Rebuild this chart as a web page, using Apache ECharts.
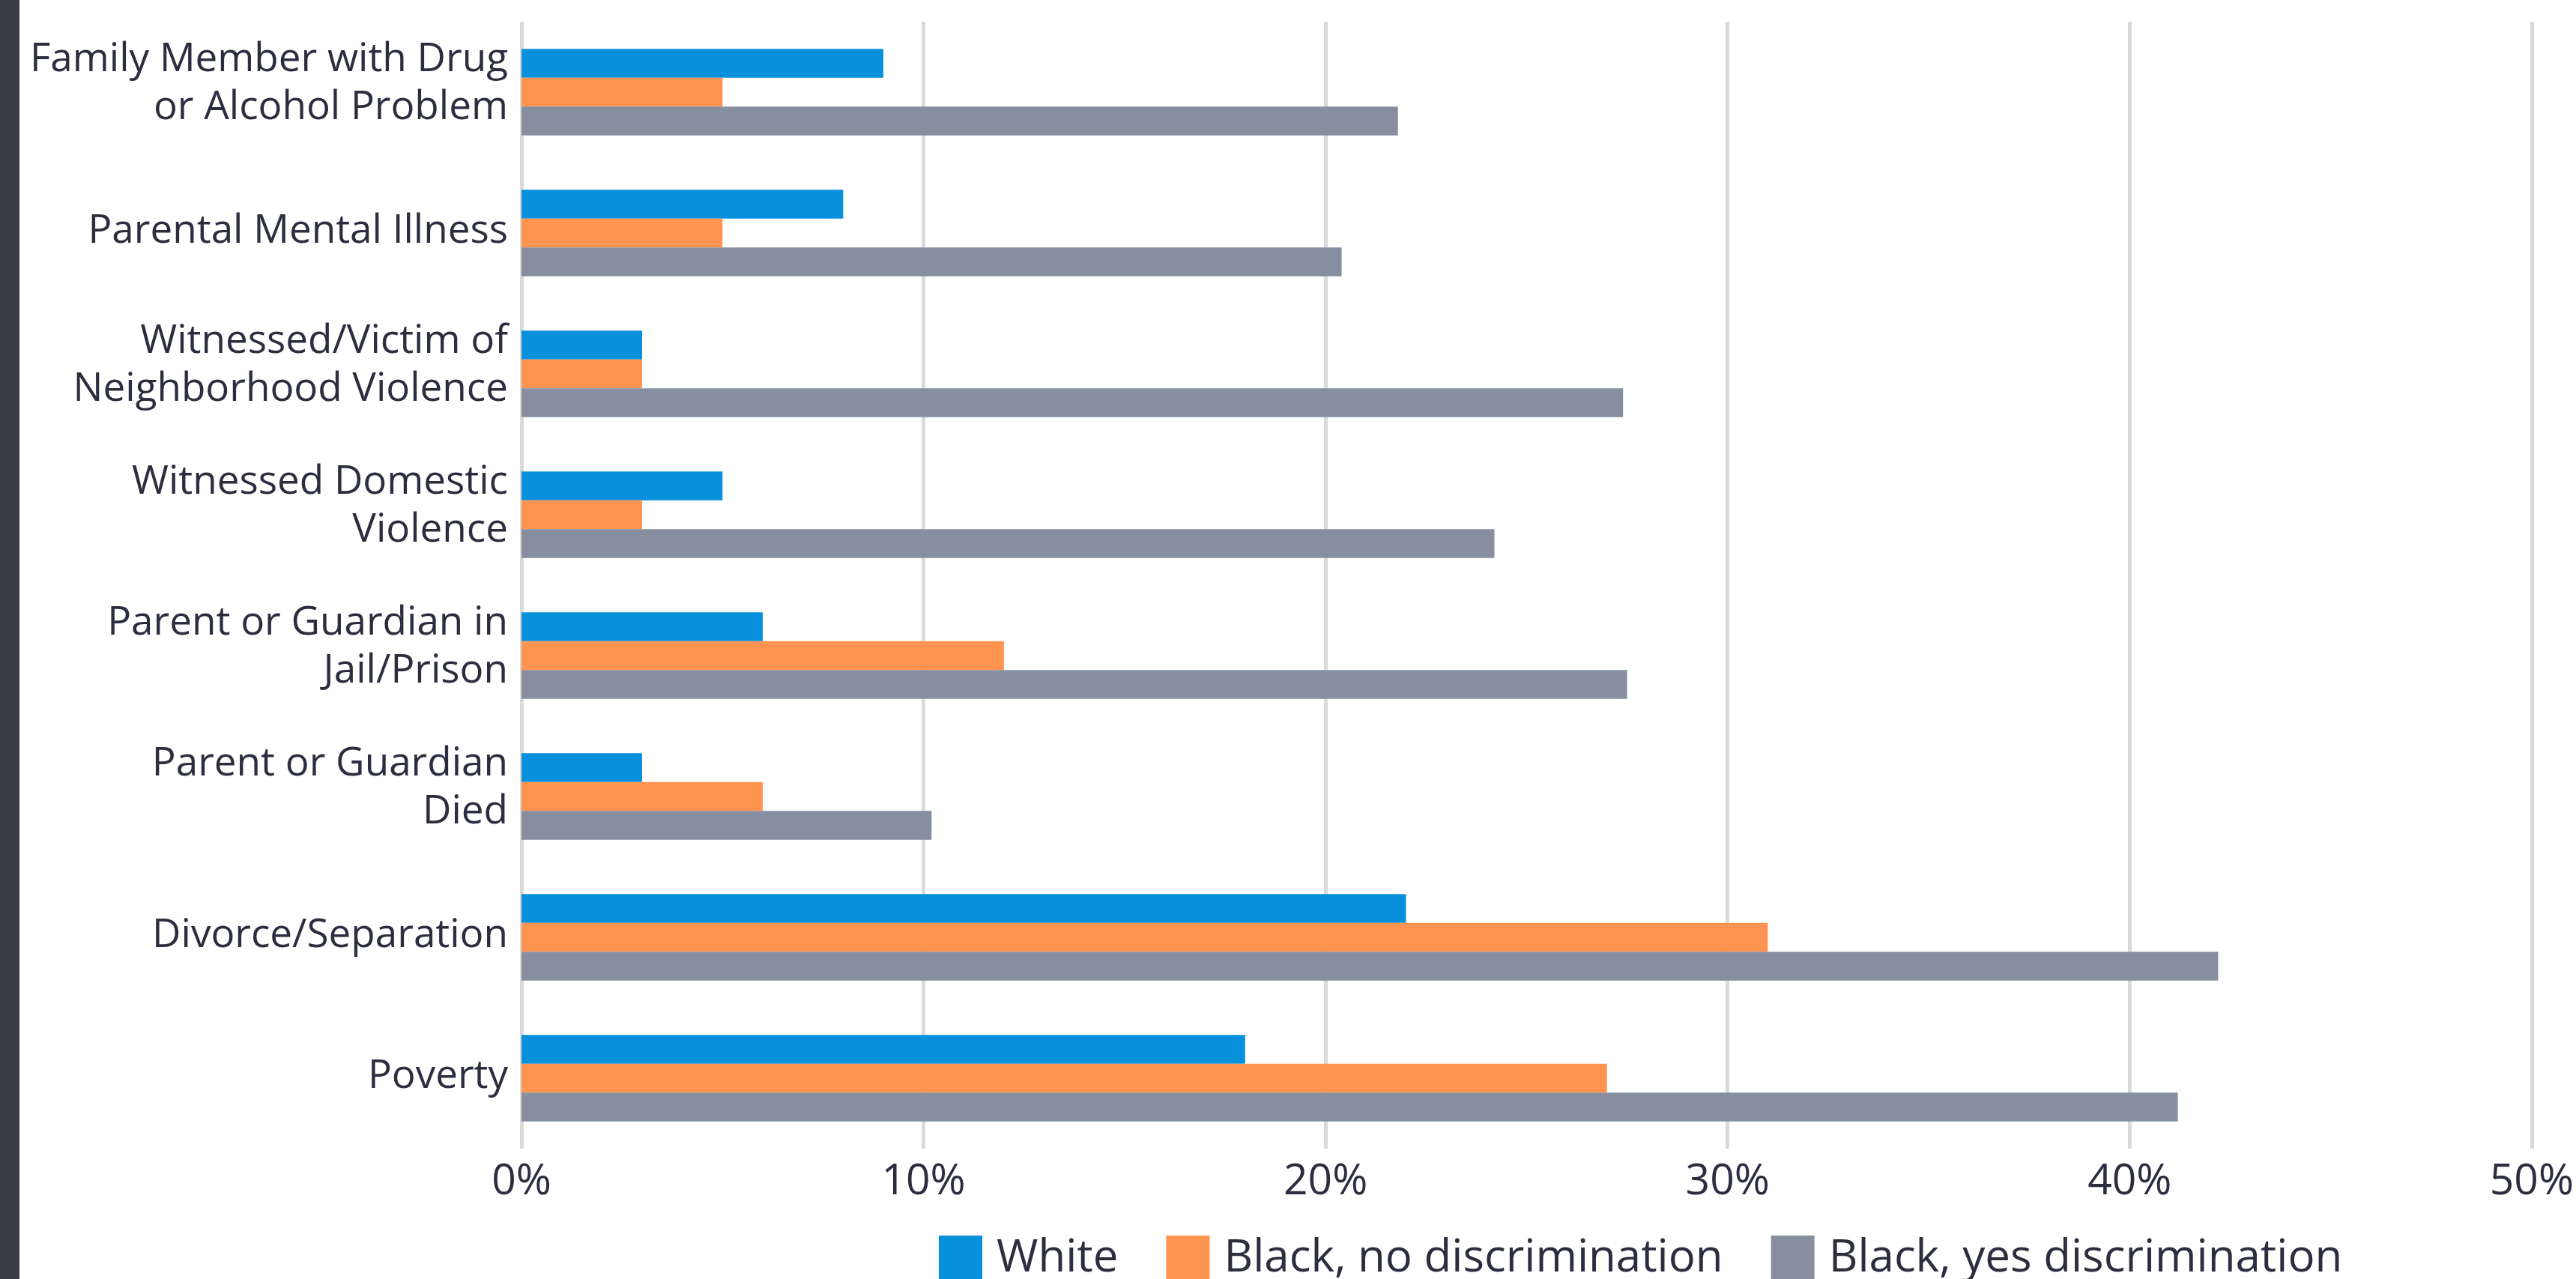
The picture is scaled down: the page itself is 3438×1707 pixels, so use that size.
<!DOCTYPE html>
<html>
<head>
<meta charset="utf-8">
<script src="https://cdn.jsdelivr.net/npm/echarts@6/dist/echarts.min.js"></script>
<style>
  html, body { margin: 0; padding: 0; background: #ffffff; }
  #chart { width: 3438px; height: 1707px; }
</style>
</head>
<body>
<div id="chart"></div>
<script>
var categories = [
  "Family Member with Drug\nor Alcohol Problem",
  "Parental Mental Illness",
  "Witnessed/Victim of\nNeighborhood Violence",
  "Witnessed Domestic\nViolence",
  "Parent or Guardian in\nJail/Prison",
  "Parent or Guardian\nDied",
  "Divorce/Separation",
  "Poverty"
];
var seriesNames = ["White", "Black, no discrimination", "Black, yes discrimination"];
var whiteValues = [9, 8, 3, 5, 6, 3, 22, 18];
var blackNoValues = [5, 5, 3, 3, 12, 6, 31, 27];
var blackYesValues = [21.8, 20.4, 27.4, 24.2, 27.5, 10.2, 42.2, 41.2];
var xTicks = { min: 0, max: 50, interval: 10 };

var colors = ["#0790db", "#ff9350", "#858fa0"];
var textColor = "#2c2e40";
var fontFamily = "'Open Sans', 'Noto Sans', sans-serif";

var chart = echarts.init(document.getElementById('chart'), null, { renderer: 'canvas' });

function barSeries(name, data, color) {
  return {
    name: name,
    type: 'bar',
    data: data,
    barWidth: 38.5,
    barGap: '0%',
    itemStyle: { color: color },
    emphasis: { disabled: true },
    animation: false
  };
}

function labelFormatter(value) {
  var lines = value.split('\n');
  var body = lines.map(function (l) { return '{t|' + l + '}'; }).join('\n');
  return body + '\n' + (lines.length > 1 ? '{g1| }' : '{g2| }');
}

chart.setOption({
  animation: false,
  backgroundColor: '#ffffff',
  color: colors,
  graphic: [{
    type: 'rect',
    left: 0,
    top: 0,
    shape: { width: 26, height: 1707 },
    style: { fill: '#3a3b46' },
    z: 10
  }],
  grid: { left: 696, right: 56, top: 29, bottom: 174, containLabel: false },
  legend: {
    data: seriesNames,
    left: 1253,
    top: 1649,
    icon: 'rect',
    itemWidth: 58,
    itemHeight: 62,
    itemGap: 64,
    padding: 0,
    selectedMode: false,
    textStyle: {
      fontFamily: fontFamily,
      fontSize: 60,
      color: textColor,
      padding: [0, 0, 0, 14]
    }
  },
  xAxis: {
    type: 'value',
    min: xTicks.min,
    max: xTicks.max,
    interval: xTicks.interval,
    axisLine: { show: false },
    axisTick: { show: false },
    axisLabel: {
      formatter: '{value}%',
      fontFamily: fontFamily,
      fontSize: 57,
      color: textColor,
      margin: 16
    },
    splitLine: { show: true, lineStyle: { color: '#dadada', width: 5 } }
  },
  yAxis: {
    type: 'category',
    data: categories,
    inverse: true,
    axisLine: { show: false },
    axisTick: { show: false },
    axisLabel: {
      formatter: labelFormatter,
      fontFamily: fontFamily,
      fontSize: 53,
      lineHeight: 64,
      color: textColor,
      margin: 18,
      align: 'right',
      rich: {
        t: { fontFamily: fontFamily, fontSize: 53, lineHeight: 64, color: textColor, align: 'right' },
        g1: { fontSize: 1, lineHeight: 22, height: 22, align: 'right' },
        g2: { fontSize: 1, lineHeight: 4, height: 4, align: 'right' }
      }
    },
    splitLine: { show: false }
  },
  series: [
    barSeries(seriesNames[0], whiteValues, colors[0]),
    barSeries(seriesNames[1], blackNoValues, colors[1]),
    barSeries(seriesNames[2], blackYesValues, colors[2])
  ]
});
</script>
</body>
</html>
